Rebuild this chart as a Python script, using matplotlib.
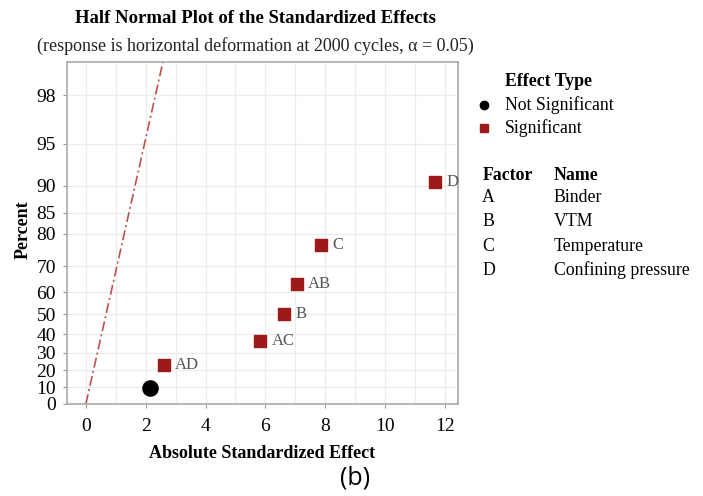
import numpy as np
import matplotlib.pyplot as plt
from statistics import NormalDist

# effects (absolute standardized) and their half-normal plotting percent
labels = ['', 'AD', 'AC', 'B', 'AB', 'C', 'D']
effects = [2.14, 2.6, 5.83, 6.63, 7.06, 7.85, 11.68]
percent = [9.46, 23.0, 36.5, 50.0, 63.5, 77.0, 90.5]
significant = [False, True, True, True, True, True, True]

y_ticks = [0, 10, 20, 30, 40, 50, 60, 70, 80, 85, 90, 95, 98]
x_ticks = [0, 2, 4, 6, 8, 10, 12]
factors = ['A', 'B', 'C', 'D']
names = ['Binder', 'VTM', 'Temperature', 'Confining pressure']

nd = NormalDist()


def _q(v):
    if not np.isfinite(v):
        return np.nan
    return nd.inv_cdf(0.5 + v / 200.0)


def _c(v):
    if not np.isfinite(v):
        return np.nan
    return (2 * nd.cdf(v) - 1) * 100.0


def fwd(p):
    p = np.clip(np.asarray(p, dtype=float), 0, 99.99)
    return np.vectorize(_q, otypes=[float])(p)


def inv(z):
    return np.vectorize(_c, otypes=[float])(np.asarray(z, dtype=float))


plt.rcParams['font.family'] = ['Liberation Serif', 'DejaVu Serif']

red = '#9e1a1a'
fig = plt.figure(figsize=(7.03, 4.96), dpi=100)
ax = fig.add_axes([0.0953, 0.1855, 0.556, 0.6895])
ax.set_yscale('function', functions=(fwd, inv))
ax.set_ylim(0, 99)
ax.set_xlim(-0.63, 12.43)

# reference line (sigma = 1)
z_top = nd.inv_cdf(0.5 + 0.99 / 2)
ax.plot([0, z_top], [0, 99], color='#c0504d', lw=1.2,
        linestyle=(0, (6, 2, 1.2, 2)), zorder=2)

for x, p, lab, s in zip(effects, percent, labels, significant):
    if s:
        ax.scatter(x, p, marker='s', s=80, color=red, zorder=3, clip_on=False)
        ax.annotate(lab, (x, p), xytext=(8, 0), textcoords='offset points',
                    va='center', ha='left', fontsize=12, color='#555555',
                    annotation_clip=False)
    else:
        ax.scatter(x, p, marker='o', s=120, color='black', zorder=3)

ax.set_yticks(y_ticks)
ax.set_yticklabels([str(t) for t in y_ticks])
ax.yaxis.set_minor_locator(plt.NullLocator())
ax.set_xticks(x_ticks)
ax.set_xticks(np.arange(0, 13, 1), minor=True)
ax.grid(True, which='both', color='#ececec', lw=0.9)
ax.set_axisbelow(True)
ax.tick_params(axis='both', which='major', labelsize=14, color='#999999',
               length=3, width=0.8)
ax.tick_params(axis='x', which='major', pad=7)
ax.tick_params(axis='y', which='major', pad=5)
ax.tick_params(axis='both', which='minor', length=0)
for sp in ax.spines.values():
    sp.set_color('#aaaaaa')
    sp.set_linewidth(1.2)

ax.set_xlabel('Absolute Standardized Effect', fontsize=13, fontweight='bold')
ax.set_ylabel('Percent', fontsize=13, fontweight='bold')
ax.xaxis.set_label_coords(0.5, -0.12)
ax.yaxis.set_label_coords(-0.09, 0.51)

fig.text(0.363, 0.962, 'Half Normal Plot of the Standardized Effects',
         ha='center', va='center', fontsize=13.5, fontweight='bold')
fig.text(0.363, 0.908,
         '(response is horizontal deformation at 2000 cycles, \u03b1 = 0.05)',
         ha='center', va='center', fontsize=13, color='#222222')

# legend panel
fs = 12.8
fig.text(0.718, 0.835, 'Effect Type', ha='left', va='center',
         fontsize=fs, fontweight='bold')
fig.lines.append(plt.Line2D([0.688], [0.788], marker='o', ms=6,
                            color='black', transform=fig.transFigure))
fig.text(0.718, 0.788, 'Not Significant', ha='left', va='center', fontsize=fs)
fig.lines.append(plt.Line2D([0.688], [0.742], marker='s', ms=6,
                            color=red, transform=fig.transFigure))
fig.text(0.718, 0.742, 'Significant', ha='left', va='center', fontsize=fs)

fig.text(0.686, 0.647, 'Factor', ha='left', va='center',
         fontsize=fs, fontweight='bold')
fig.text(0.788, 0.647, 'Name', ha='left', va='center',
         fontsize=fs, fontweight='bold')
for i, (f, n) in enumerate(zip(factors, names)):
    y = 0.601 - i * 0.0485
    fig.text(0.686, y, f, ha='left', va='center', fontsize=fs)
    fig.text(0.788, y, n, ha='left', va='center', fontsize=fs)

fig.text(0.505, 0.036, '(b)', ha='center', va='center', fontsize=18,
         family=['Open Sans', 'DejaVu Sans'])

fig.savefig('out.png', dpi=100)
